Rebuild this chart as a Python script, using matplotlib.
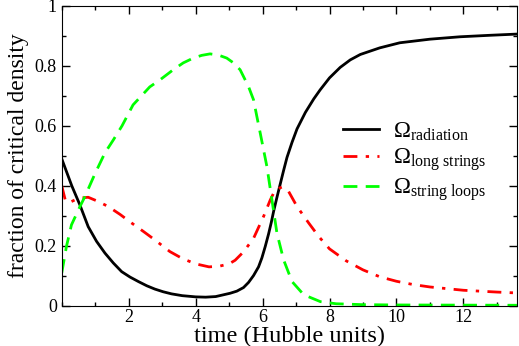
import matplotlib.pyplot as plt
from matplotlib.ticker import MultipleLocator, FixedLocator

plt.rcParams['font.family'] = 'Liberation Serif'
plt.rcParams['mathtext.fontset'] = 'custom'
plt.rcParams['mathtext.rm'] = 'Liberation Serif'
plt.rcParams['mathtext.it'] = 'Liberation Serif:italic'

# radiation
t_rad = [0.0, 0.15, 0.3, 0.54, 0.79, 1.04, 1.29, 1.54, 1.79, 2.04, 2.29, 2.54, 2.78, 3.03, 3.28,
         3.6, 4.0, 4.3, 4.6, 5.03, 5.23, 5.43, 5.58, 5.73, 5.88, 5.98, 6.08, 6.18, 6.26, 6.33,
         6.43, 6.53, 6.63, 6.73, 6.88, 7.03, 7.28, 7.53, 7.72, 8.0, 8.32, 8.62, 8.92, 9.5,
         10.1, 11.0, 11.9, 12.8, 13.6]
om_rad = [0.49, 0.445, 0.40, 0.337, 0.264, 0.215, 0.176, 0.143, 0.114, 0.096, 0.081, 0.067, 0.056, 0.047, 0.04,
          0.034, 0.03, 0.029, 0.031, 0.042, 0.049, 0.061, 0.078, 0.101, 0.13, 0.16, 0.198, 0.24, 0.278, 0.315,
          0.362, 0.407, 0.452, 0.495, 0.545, 0.59, 0.645, 0.69, 0.72, 0.76, 0.795, 0.82, 0.838, 0.86,
          0.877, 0.889, 0.897, 0.902, 0.906]

# long strings
t_long = [0.0, 0.1, 0.2, 0.39, 0.6, 0.79, 1.09, 1.39, 1.74, 2.09, 2.44, 2.78, 3.23, 3.6, 4.0,
          4.4, 4.7, 5.0, 5.18, 5.43, 5.73, 6.03, 6.23, 6.38, 6.58, 6.78, 7.03, 7.38, 7.68,
          8.0, 8.5, 9.0, 9.5, 10.0, 10.5, 11.0, 12.0, 13.0, 13.6]
om_long = [0.40, 0.355, 0.343, 0.353, 0.36, 0.362, 0.348, 0.331, 0.305, 0.276, 0.248, 0.22, 0.181, 0.158, 0.14,
           0.13, 0.132, 0.14, 0.152, 0.18, 0.225, 0.298, 0.353, 0.387, 0.396, 0.381, 0.331, 0.276, 0.231,
           0.19, 0.15, 0.12, 0.097, 0.082, 0.071, 0.063, 0.052, 0.046, 0.043]

# string loops
t_loop = [0.0, 0.14, 0.29, 0.54, 0.69, 0.99, 1.29, 1.54, 1.8, 2.13, 2.63, 2.93, 3.33, 3.63, 3.93,
          4.18, 4.43, 4.68, 4.93, 5.13, 5.33, 5.58, 5.73, 5.83, 5.93, 6.13, 6.28, 6.43, 6.63,
          6.88, 7.23, 7.73, 8.2, 9.0, 10.0, 13.6]
om_loop = [0.11, 0.198, 0.27, 0.33, 0.364, 0.44, 0.51, 0.553, 0.6, 0.67, 0.73, 0.753, 0.787, 0.81, 0.826,
           0.835, 0.84, 0.836, 0.826, 0.81, 0.787, 0.731, 0.687, 0.631, 0.576, 0.464, 0.353, 0.242, 0.153,
           0.081, 0.037, 0.014, 0.007, 0.004, 0.003, 0.002]

y_ticks = [0, 0.2, 0.4, 0.6, 0.8, 1.0]
y_labels = ['0', '0.2', '0.4', '0.6', '0.8', '1']
x_ticks = [2, 4, 6, 8, 10, 12]

fig = plt.figure(figsize=(5.19, 3.46), dpi=100)
ax = fig.add_axes([0.119, 0.116, 0.877, 0.867])

ax.plot(t_rad, om_rad, color='black', lw=2, label=r'$\Omega_{\rm radiation}$')
ax.plot(t_long, om_long, color='red', lw=2, dashes=(5, 3, 1.2, 3), label=r'$\Omega_{\rm long\ strings}$')
ax.plot(t_loop, om_loop, color='#00ff00', lw=2, dashes=(5, 3), label=r'$\Omega_{\rm string\ loops}$')

ax.set_xlim(0, 13.6)
ax.set_ylim(0, 1)
ax.xaxis.set_major_locator(FixedLocator(x_ticks))
ax.xaxis.set_minor_locator(MultipleLocator(1))
ax.set_yticks(y_ticks)
ax.set_yticklabels(y_labels)
ax.yaxis.set_minor_locator(MultipleLocator(0.1))
ax.tick_params(which='both', direction='in', top=True, right=True, labelsize=13, width=1)
ax.tick_params(which='major', length=6)
ax.tick_params(which='minor', length=3)
ax.tick_params(axis='x', pad=2)

ax.set_xlabel('time (Hubble units)', fontsize=17.5)
ax.xaxis.set_label_coords(0.5, -0.066)
ax.set_ylabel('fraction of critical density', fontsize=17, labelpad=4)

ax.legend(loc='center left', bbox_to_anchor=(0.618, 0.48), frameon=False, fontsize=16.5,
          handlelength=1.55, handletextpad=0.65, labelspacing=0.15, borderpad=0, borderaxespad=0)

fig.savefig('out.png', dpi=100)
